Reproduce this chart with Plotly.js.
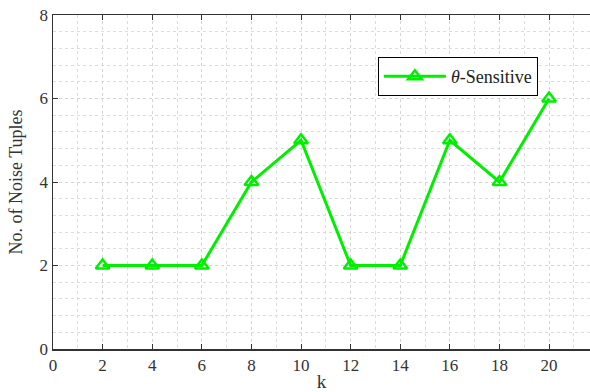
<!DOCTYPE html>
<html><head><meta charset="utf-8">
<script src="https://cdn.plot.ly/plotly-3.0.1.min.js"></script>
<style>html,body{margin:0;padding:0;background:#fff}</style>
</head><body><div id="chart" style="width:590px;height:392px"></div>
<script>
const kValues = [2, 4, 6, 8, 10, 12, 14, 16, 18, 20];
const noiseTuples = [2, 2, 2, 4, 5, 2, 2, 5, 4, 6];
const seriesName = '<i>θ</i>-Sensitive';
const xTicks = [0, 2, 4, 6, 8, 10, 12, 14, 16, 18, 20];
const yTicks = [0, 2, 4, 6, 8];

const font = 'Liberation Serif, Times New Roman, serif';
const trace = {
  x: kValues, y: noiseTuples, name: seriesName, mode: 'lines+markers',
  line: {color: '#00ee00', width: 3},
  marker: {symbol: 'triangle-up-open', size: 12, color: '#00ee00', line: {width: 2.5, color: '#00ee00'}}
};
const layout = {
  width: 590, height: 392,
  margin: {l: 53, r: 0, t: 15, b: 43},
  paper_bgcolor: '#fff', plot_bgcolor: '#fff',
  font: {family: font, size: 17, color: '#333'},
  showlegend: true,
  legend: {x: 0.605, y: 0.874, xanchor: 'left', yanchor: 'top',
    bordercolor: '#000', borderwidth: 1, bgcolor: '#fff', itemwidth: 62,
    font: {family: font, size: 18, color: '#222'}},
  xaxis: {
    range: [0, 21.65], tickvals: xTicks, ticktext: xTicks.map(String),
    tickfont: {family: font, size: 17, color: '#333'},
    ticks: 'inside', ticklen: 5, tickcolor: '#333',
    showline: true, linecolor: '#333', linewidth: 1.5, mirror: 'ticks',
    showgrid: true, gridcolor: '#d4d4d4', griddash: 'dot', gridwidth: 1,
    minor: {dtick: 1, showgrid: true, gridcolor: '#dcdcdc', griddash: 'dot', ticks: ''},
    zeroline: false,
    title: {text: 'k', font: {family: font, size: 19, color: '#333'}, standoff: 4}
  },
  yaxis: {
    range: [0, 8], tickvals: yTicks, ticktext: yTicks.map(String),
    tickfont: {family: font, size: 17, color: '#333'},
    ticks: 'inside', ticklen: 5, tickcolor: '#333',
    showline: true, linecolor: '#333', linewidth: 1.5, mirror: false,
    showgrid: true, gridcolor: '#d4d4d4', griddash: 'dot', gridwidth: 1,
    minor: {dtick: 0.4, showgrid: true, gridcolor: '#dcdcdc', griddash: 'dot', ticks: ''},
    zeroline: false,
    title: {text: 'No. of Noise Tuples', font: {family: font, size: 18, color: '#333'}, standoff: 12}
  }
};
Plotly.newPlot('chart', [trace], layout, {displayModeBar: false, staticPlot: true});
</script></body></html>
